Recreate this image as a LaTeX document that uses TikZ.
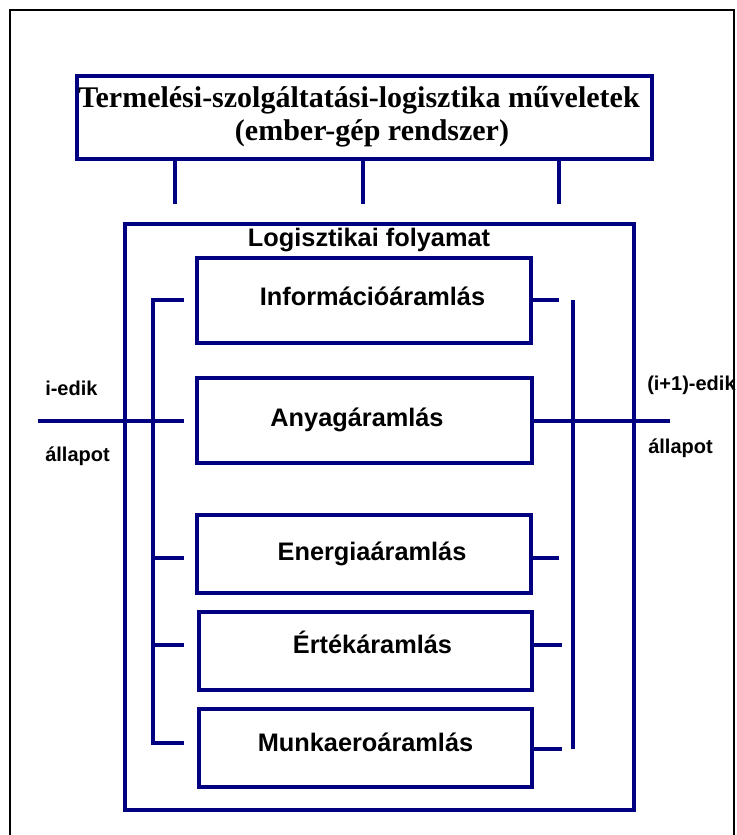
\documentclass[tikz,border=0pt]{standalone}
\usepackage{fontspec}
\setmainfont{Liberation Serif}
\setsansfont{Liberation Sans}
\definecolor{flowblue}{RGB}{0,0,128}
\begin{document}
\begin{tikzpicture}[x=0.75pt,y=-0.75pt,
  box/.style={draw=flowblue,line width=3pt,inner sep=0pt,outer sep=0pt,rectangle},
  conn/.style={draw=flowblue,line width=3pt},
  title/.style={font=\bfseries\fontsize{22.5}{25}\selectfont,anchor=base,inner sep=0pt},
  flow/.style={font=\sffamily\bfseries\fontsize{19}{22}\selectfont,anchor=base,inner sep=0pt},
  side/.style={font=\sffamily\bfseries\fontsize{15}{18}\selectfont,anchor=base west,inner sep=0pt}]
\useasboundingbox (0,0) rectangle (737,835);

% outer frame (open at the bottom)
\draw[line width=1.5pt] (10,835) -- (10,10) -- (734,10) -- (734,835);

% operations box with its two title lines
\node[box,minimum width=431.25pt,minimum height=62.25pt] (ops) at (364.5,117.5) {};
\node[title] (opsA) at (359,107) {Termelési-szolgáltatási-logisztika műveletek};
\node[title] (opsB) at (372,140) {(ember-gép rendszer)};

% stubs hanging from the operations box
\coordinate (s1) at (175,204);
\coordinate (s2) at (363,204);
\coordinate (s3) at (559,204);
\draw[conn] (s1 |- ops.south) -- (s1);
\draw[conn] (s2 |- ops.south) -- (s2);
\draw[conn] (s3 |- ops.south) -- (s3);

% logistics process frame
\node[box,minimum width=381.75pt,minimum height=439.5pt] (proc) at (379.5,517) {};
\node[flow] (procT) at (369,246) {Logisztikai folyamat};

% the five flows
\node[box,minimum width=250.5pt,minimum height=63.75pt] (info) at (364,300.5) {};
\node[box,minimum width=251.25pt,minimum height=63.75pt] (anyag) at (364.5,420.5) {};
\node[box,minimum width=250.5pt,minimum height=58.5pt] (energia) at (364,554) {};
\node[box,minimum width=249.75pt,minimum height=58.5pt] (ertek) at (365.5,651) {};
\node[box,minimum width=249.75pt,minimum height=58.5pt] (munka) at (365.5,748) {};

\node[flow] (infoT) at (372.5,305) {Információáramlás};
\node[flow] (anyagT) at (357,426) {Anyagáramlás};
\node[flow] (energiaT) at (372,560) {Energiaáramlás};
\node[flow] (ertekT) at (372.5,653) {Értékáramlás};
\node[flow] (munkaT) at (365.5,751) {Munkaeroáramlás};

% left bracket
\coordinate (lt1) at (184,300);
\coordinate (lt2) at (184,558);
\coordinate (lt3) at (184,645);
\coordinate (lt4) at (184,743);
\coordinate (lbt) at (153,300);
\coordinate (lbb) at (153,743);
\draw[conn] (lt1) -- (lbt) -- (lbb) -- (lt4);
\draw[conn] (lbt |- lt2) -- (lt2);
\draw[conn] (lbt |- lt3) -- (lt3);

% right ticks and bar
\coordinate (rt1) at (559,300);
\coordinate (rt2) at (559,558);
\coordinate (rt3) at (562,645);
\coordinate (rt4) at (562,749);
\draw[conn] (rt1 -| info.east) -- (rt1);
\draw[conn] (rt2 -| energia.east) -- (rt2);
\draw[conn] (rt3 -| ertek.east) -- (rt3);
\draw[conn] (rt4 -| munka.east) -- (rt4);
\coordinate (rbt) at (573,300);
\coordinate (rbb) at (573,749);
\draw[conn] (rbt) -- (rbb);

% state line through the material flow
\coordinate (inL) at (38,421);
\coordinate (inR) at (184,421);
\coordinate (outR) at (670,421);
\draw[conn] (inL) -- (inR);
\draw[conn] (outR -| anyag.east) -- (outR);

% state labels
\node[side] (iA) at (45,395) {i-edik};
\node[side] (iB) at (45,461) {állapot};
\node[side] (jA) at (647,390) {(i+1)-edik};
\node[side] (jB) at (648,453) {állapot};
\end{tikzpicture}
\end{document}
